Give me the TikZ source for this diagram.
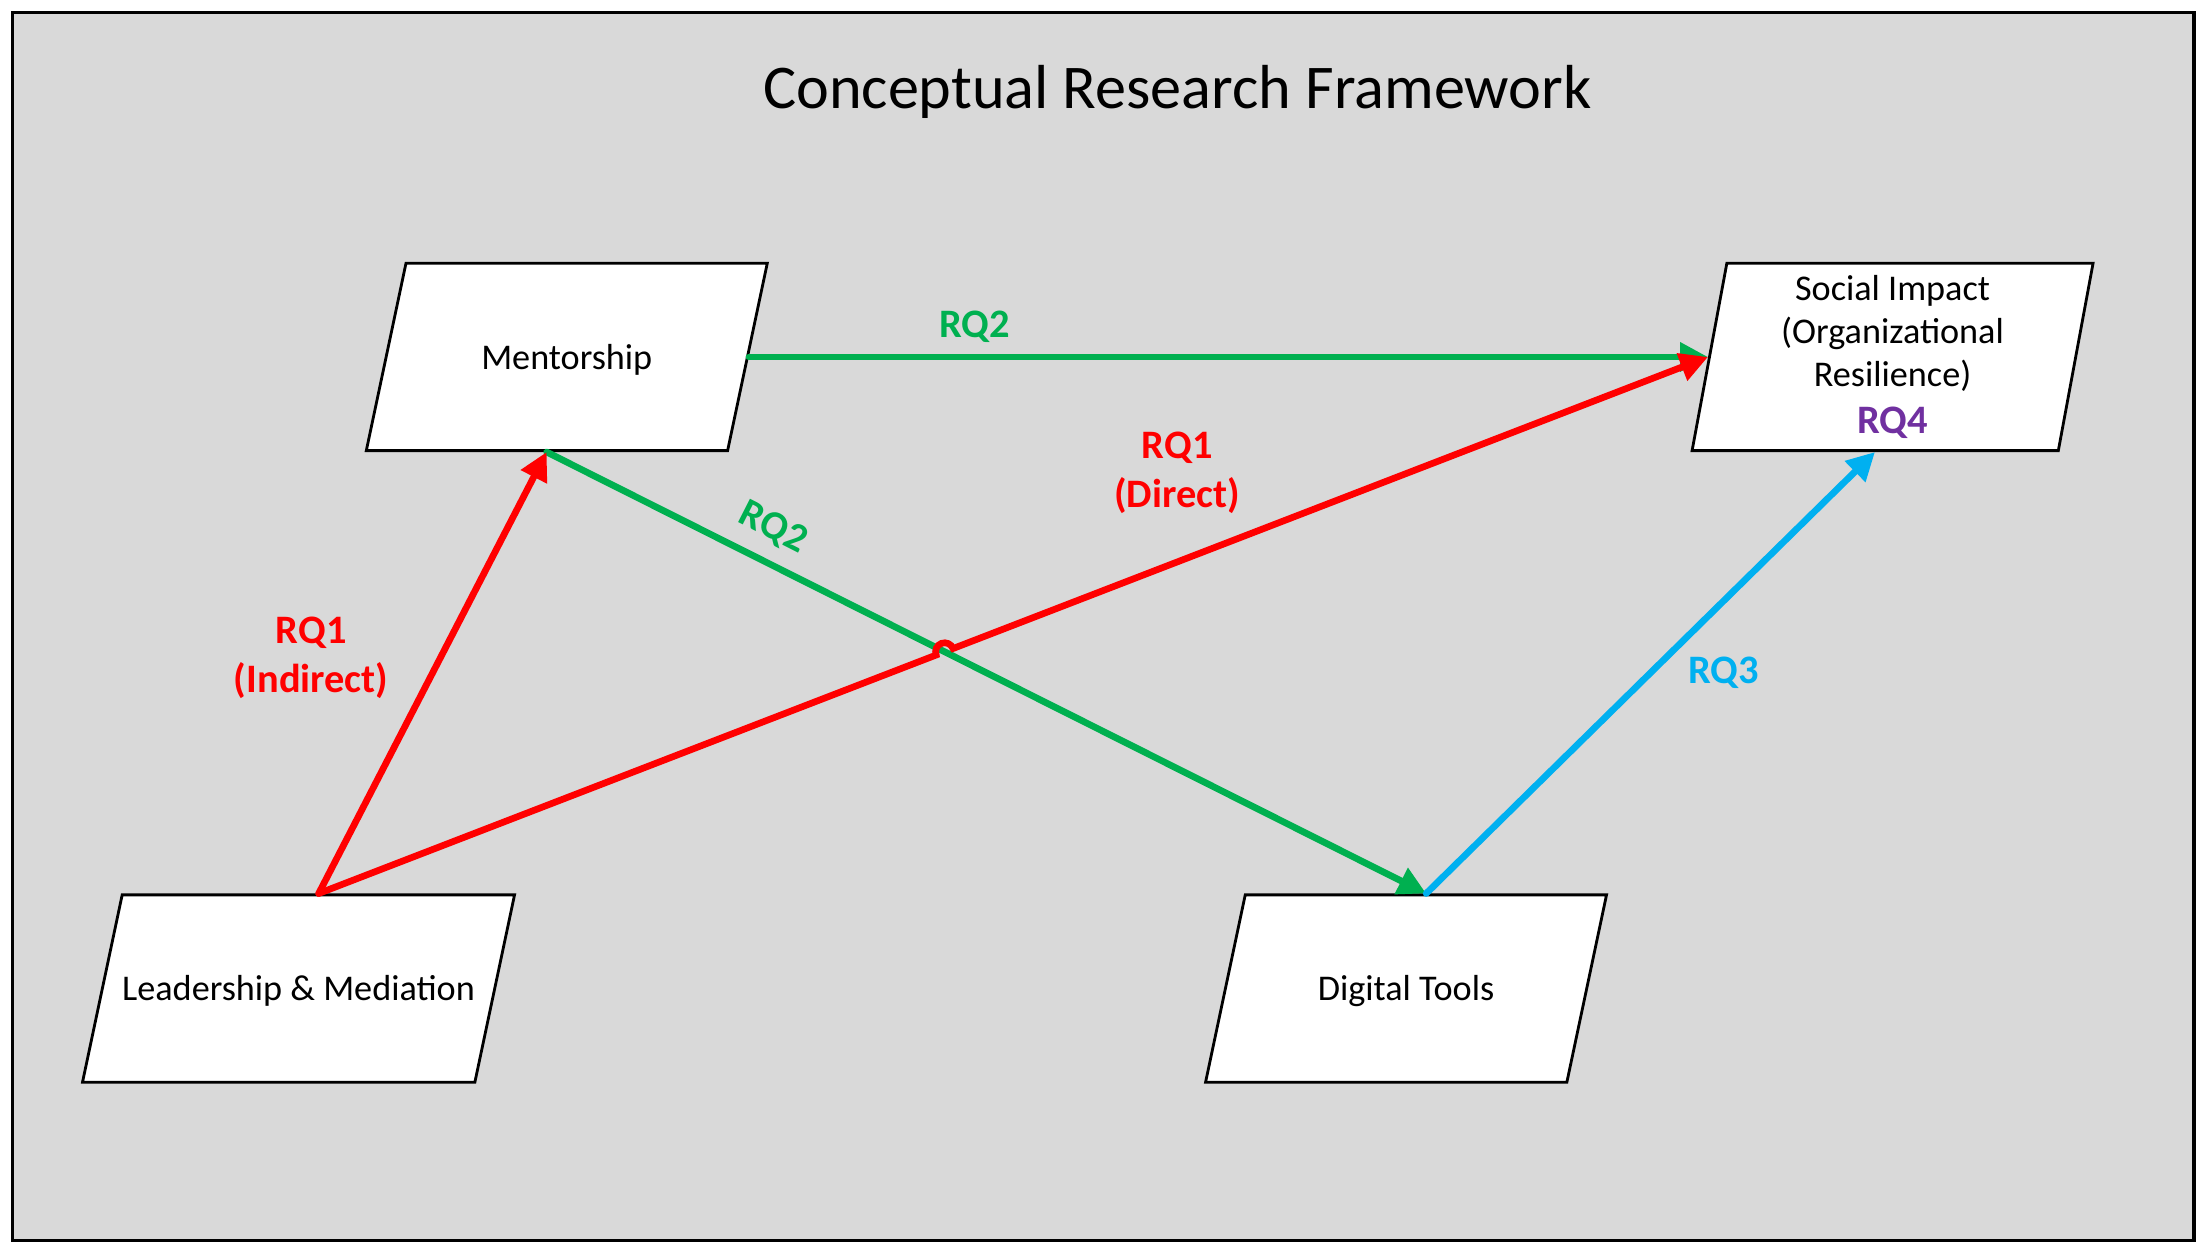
\documentclass[tikz,border=0pt]{standalone}
\usepackage{fontspec}
\setmainfont{Carlito}
\usetikzlibrary{shapes.geometric,arrows.meta,calc,intersections}

\definecolor{bggray}{HTML}{D9D9D9}
\definecolor{rqred}{HTML}{FF0000}
\definecolor{rqgreen}{HTML}{00B050}
\definecolor{rqblue}{HTML}{00B0F0}
\definecolor{rqpurple}{HTML}{7030A0}

\tikzset{
	box/.style={shape=trapezium, draw=black, line width=0.8pt, fill=white,
		trapezium left angle=78, trapezium right angle=102,
		trapezium stretches body=true,
		minimum width=4.01cm, minimum height=1.873cm, inner sep=0pt,
		align=center, font=\fontsize{10.3}{12.3}\selectfont},
	onebox/.style={box, text height=30pt, text depth=23.1pt},
	link/.style={line width=1.9pt, line cap=round,
		-{Triangle[length=0.28cm,width=0.28cm]}},
	rqlabel/.style={align=center, font=\fontsize{11.5}{14}\selectfont\bfseries}
}

\begin{document}
\begin{tikzpicture}[x=0.01408cm, y=-0.01408cm]
					\useasboundingbox (0,0) rectangle (1568,891);
					\draw[line width=1pt, fill=bggray] (9,9) rectangle (1558,881);
					
					\node (title) at (836,65) {\fontsize{17.7}{21}\selectfont Conceptual Research Framework};
					
					% boxes
					\node[onebox] (ment) at (402.5,253.5) {Mentorship};
					\node[box] (soc) at (1344,253.5) {Social Impact\\(Organizational\\Resilience)\\[1pt]{\fontsize{11.5}{14}\selectfont\bfseries\color{rqpurple}RQ4}};
					\node[onebox, minimum width=4.266cm] (lead) at (212,702) {Leadership \& Mediation};
					\node[onebox] (dig) at (998.5,702) {Digital Tools};
					
					% crossing point of the two long arrows
					\path[name path=greendiag] (ment.bottom side) -- (dig.top side);
					\path[name path=reddirect] (lead.top side) -- (soc.left side);
					\path[name intersections={of=greendiag and reddirect, by=cross}];
					
					% arrows
					\draw[link, rqgreen] (ment.right side) -- (soc.left side);
					\draw[link, rqgreen] (ment.bottom side) -- (dig.top side);
					\draw[link, rqred] (lead.top side) -- (ment.bottom side);
					\draw[link, rqred] (lead.top side) -- ($(cross)!0.09cm!(lead.top side)$)
						arc[start angle=201.1, end angle=21.1, radius=0.09cm] -- (soc.left side);
					\draw[link, rqblue] (dig.top side) -- (soc.bottom side);
					
					% labels
					\node[rqlabel, rqgreen] (lblmentsoc) at (692,232) {RQ2};
					\node[rqlabel, rqgreen, rotate=-26.9] (lblmentdig) at (549,375) {RQ2};
					\node[rqlabel, rqred] (lblindirect) at (221,467) {RQ1\\(Indirect)};
					\node[rqlabel, rqred] (lbldirect) at (836,336) {RQ1\\(Direct)};
					\node[rqlabel, rqblue] (lbldigsoc) at (1224,478) {RQ3};
				\end{tikzpicture}
\end{document}
